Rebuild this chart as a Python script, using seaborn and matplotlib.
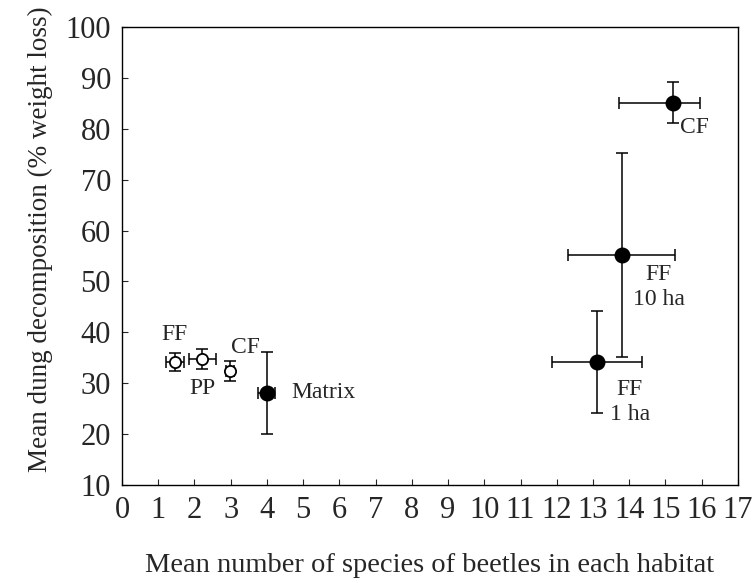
import matplotlib
matplotlib.use("Agg")
import matplotlib.pyplot as plt
import seaborn as sns
import pandas as pd
import numpy as np

# Data
habitats = ["FF", "PP", "CF", "Matrix", "FF\n1 ha", "FF\n10 ha", "CF"]
species = [1.46, 2.22, 2.98, 3.99, 13.12, 13.79, 15.20]
decomposition = [34.2, 34.75, 32.4, 28.1, 34.2, 55.2, 85.1]
y_err = [1.7, 1.9, 1.9, 8.0, 10.0, 20.0, 4.0]
x_err_low = [0.25, 0.37, 0.12, 0.23, 1.24, 1.48, 1.49]
x_err_high = [0.25, 0.37, 0.12, 0.23, 1.24, 1.48, 0.75]
kind = ["open", "open", "open", "filled", "filled", "filled", "filled"]

x_ticks = list(range(0, 18))
y_ticks = list(range(10, 101, 10))

df = pd.DataFrame({"habitat": habitats, "species": species,
                   "decomp": decomposition, "kind": kind})

sns.set_style("ticks")
plt.rcParams["font.family"] = ["Liberation Serif", "DejaVu Serif"]
plt.rcParams["xtick.direction"] = "in"
plt.rcParams["ytick.direction"] = "in"

fig = plt.figure(figsize=(7.56, 5.83), dpi=100)
ax = fig.add_axes([0.1614, 0.168, 0.8146, 0.7857])

# error bars
ax.errorbar(df["species"], df["decomp"], yerr=y_err,
            xerr=[x_err_low, x_err_high], fmt="none", ecolor="black",
            elinewidth=1.1, capsize=4, capthick=1.1, zorder=2)

sns.scatterplot(data=df[df["kind"] == "filled"], x="species", y="decomp",
                color="black", s=110, edgecolor="black", linewidth=1,
                ax=ax, zorder=3, legend=False)
sns.scatterplot(data=df[df["kind"] == "open"], x="species", y="decomp",
                color="white", s=65, edgecolor="black", linewidth=1.3,
                ax=ax, zorder=3, legend=False)

# point labels
offsets = [(0, 20), (0, -21), (11, 17), (18, 0), (9, -29), (8, -23), (5, -18)]
aligns = ["center", "center", "center", "left", "left", "left", "left"]
for h, xv, yv, off, al in zip(habitats, species, decomposition, offsets, aligns):
    ax.annotate(h, (xv, yv), xytext=off, textcoords="offset points",
                ha=al, va="center", multialignment="center",
                fontsize=17, linespacing=1.25)

ax.set_xlim(0, 17)
ax.set_ylim(10, 100)
ax.set_xticks(x_ticks)
ax.set_yticks(y_ticks)
ax.tick_params(axis="both", labelsize=22, length=4, width=0.8, pad=8)
ax.set_xlabel("Mean number of species of beetles in each habitat",
              fontsize=20.5, labelpad=20)
ax.set_ylabel("Mean dung decomposition (% weight loss)", fontsize=19.5)
ax.yaxis.set_label_coords(-0.112, 0.537)
for s in ax.spines.values():
    s.set_linewidth(1.0)
    s.set_color("black")

fig.savefig("out.png", dpi=100)
